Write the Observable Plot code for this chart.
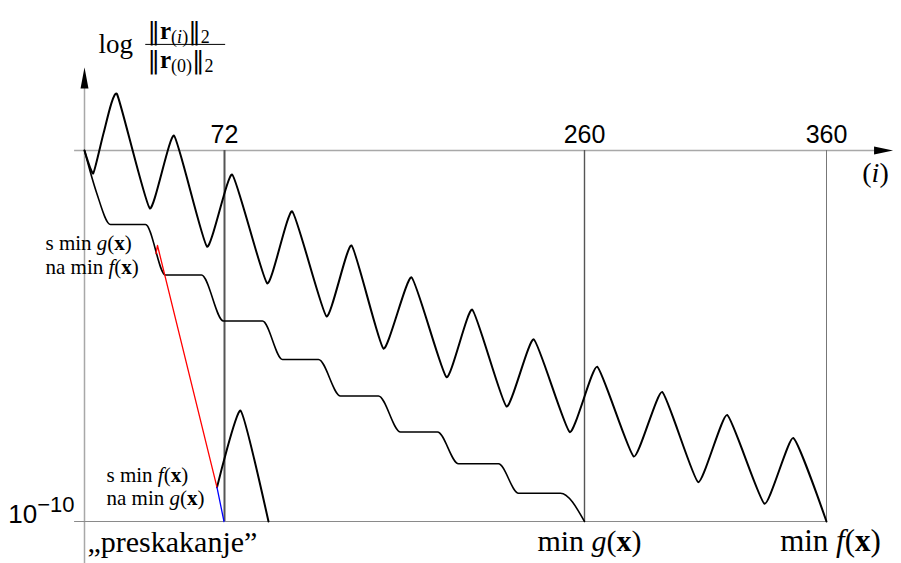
<!DOCTYPE html>
<html><head><meta charset="utf-8">
<script src="https://cdn.jsdelivr.net/npm/d3@7"></script>
<script src="https://cdn.jsdelivr.net/npm/@observablehq/plot@0.6"></script>
<style>html,body{margin:0;padding:0;background:#fff;overflow:hidden}</style>
</head><body><div id="chart"></div>
<script>
// ---- data: iteration i and log10 of the relative residual ----
const topI   = [0, 4.47, 9.93, 16.71, 33.58, 46.03, 63.0, 76.02, 94.30, 107.35, 125.27, 138.32, 155.03, 169.66, 187.93, 201.35, 219.27, 233.52, 252.32, 265.25, 280.37, 292.11, 306.98, 318.97, 334.38, 346.24, 360];
const topLog = [0, -0.62, 0.49, 1.52, -1.56, 0.40, -2.59, -0.65, -3.58, -1.64, -4.47, -2.56, -5.34, -3.42, -6.11, -4.29, -6.90, -5.09, -7.59, -5.83, -8.25, -6.51, -8.94, -7.13, -9.52, -7.75, -10];

const stairI   = [0, 6.17, 13.37, 31.37, 41.66, 60.17, 71.49, 91.84, 102.29, 121.09, 132.58, 152.42, 163.91, 183.23, 194.2, 215.09, 225.53, 247.47, 260];
const stairLog = [0, -1.13, -1.995, -1.995, -3.356, -3.356, -4.596, -4.596, -5.633, -5.633, -6.617, -6.617, -7.588, -7.588, -8.445, -8.445, -9.237, -9.237, -10];

const redI   = [36.77, 37.54, 68.14];
const redLog = [-2.78, -2.56, -9.08];

const blueI   = [68.14, 71.74];
const blueLog = [-9.08, -10];

const jumpI   = [68.14, 80.36, 94.98];
const jumpLog = [-9.08, -7.01, -10];

const tickValues = [72, 260, 360];
const tickLabels = ["72", "260", "360"];

// ---- helpers ----
const rows = (xs, ys) => xs.map((x, k) => ({x, y: ys[k]}));
const serif = "'Liberation Serif', 'Times New Roman', serif";
const sans = "'Liberation Sans', Arial, sans-serif";

const arrowRight = {draw(ctx) { ctx.moveTo(0, 0); ctx.lineTo(-19, -4); ctx.lineTo(-19, 4); ctx.closePath(); }};
const arrowUp    = {draw(ctx) { ctx.moveTo(0, 0); ctx.lineTo(-4, 21); ctx.lineTo(4, 21); ctx.closePath(); }};

// rich-text specs: [text, style] with i=italic, b=bold, s=subscript, u=superscript, d=DejaVu glyph
const rich = new Map([
  ["s min g(x)",  {parts: [["s min ", ""], ["g", "i"], ["(", ""], ["x", "b"], [")", ""]]}],
  ["na min f(x)", {parts: [["na min ", ""], ["f", "i"], ["(", ""], ["x", "b"], [")", ""]]}],
  ["s min f(x)",  {parts: [["s min ", ""], ["f", "i"], ["(", ""], ["x", "b"], [")", ""]]}],
  ["na min g(x)", {parts: [["na min ", ""], ["g", "i"], ["(", ""], ["x", "b"], [")", ""]]}],
  ["min g(x)",    {parts: [["min ", ""], ["g", "i"], ["(", ""], ["x", "b"], [")", ""]]}],
  ["min f(x)",    {parts: [["min ", ""], ["f", "i"], ["(", ""], ["x", "b"], [")", ""]]}],
  ["(i)",         {parts: [["(", ""], ["i", "i"], [")", ""]]}],
  ["10−10",       {parts: [["10", ""], ["−10", "u"]], small: 22, shift: 11}],
  ["‖r(i)‖2",     {parts: [["‖", "d"], ["r", "b"], ["(", "s"], ["i", "si"], [")", "s"], ["‖", "d"], ["2", "s"]], small: 18, shift: 4}],
  ["‖r(0)‖2",     {parts: [["‖", "d"], ["r", "b"], ["(0)", "s"], ["‖", "d"], ["2", "s"]], small: 18, shift: 4}]
]);

function richify(el, spec) {
  const ns = "http://www.w3.org/2000/svg";
  el.textContent = "";
  let cur = 0;
  for (const [s, st] of spec.parts) {
    const ts = document.createElementNS(ns, "tspan");
    const target = st.includes("s") ? spec.shift : st.includes("u") ? -spec.shift : 0;
    if (target !== cur) { ts.setAttribute("dy", target - cur); cur = target; }
    if (st.includes("i")) ts.setAttribute("font-style", "italic");
    if (st.includes("b")) ts.setAttribute("font-weight", "bold");
    if (st.includes("d")) ts.setAttribute("font-family", "'DejaVu Serif'");
    if (st.includes("s") || st.includes("u")) ts.setAttribute("font-size", spec.small);
    ts.textContent = s;
    el.appendChild(ts);
  }
}

const label = (t, x, y, o) => Plot.text([t], {x: () => x, y: () => y, text: d => d, lineAnchor: "bottom", fill: "black", ...o});

const chart = Plot.plot({
  width: 901,
  height: 563,
  margin: 0,
  style: {background: "white"},
  x: {type: "linear", domain: [0, 72, 260, 360], range: [84, 224, 584, 826], axis: null},
  y: {type: "linear", domain: [0, -10], range: [150, 521], axis: null},
  marks: [
    // axes and guide lines
    Plot.ruleY([0], {x1: -5.1, x2: 381, stroke: "#a8a8a8", strokeWidth: 1.5}),
    Plot.dot([0], {x: () => 387.5, y: () => 0, symbol: arrowRight, fill: "black", stroke: "none"}),
    Plot.ruleX([0], {y1: -11.3, y2: 1.7, stroke: "#a8a8a8", strokeWidth: 1.5}),
    Plot.dot([0], {x: () => 0, y: () => 2.24, symbol: arrowUp, fill: "black", stroke: "none"}),
    Plot.ruleY([-10], {x1: -5.1, x2: 360, stroke: "#8a8a8a", strokeWidth: 1}),
    Plot.ruleX([tickValues[0]], {y1: 0, y2: -10, stroke: "#555", strokeWidth: 2}),
    Plot.ruleX([tickValues[1]], {y1: 0, y2: -10, stroke: "#555", strokeWidth: 1.4}),
    Plot.ruleX([tickValues[2]], {y1: 0, y2: -10, stroke: "#777", strokeWidth: 1}),
    // curves
    Plot.line(rows(stairI, stairLog), {x: "x", y: "y", curve: "monotone-x", stroke: "black", strokeWidth: 1.6}),
    Plot.line(rows(topI, topLog), {x: "x", y: "y", curve: "cardinal", tension: 0.55, stroke: "black", strokeWidth: 2, strokeLinejoin: "round"}),
    Plot.line(rows(jumpI, jumpLog), {x: "x", y: "y", curve: "cardinal", tension: 0.55, stroke: "black", strokeWidth: 2, strokeLinejoin: "round"}),
    Plot.line(rows(redI, redLog), {x: "x", y: "y", stroke: "red", strokeWidth: 1.3}),
    Plot.line(rows(blueI, blueLog), {x: "x", y: "y", stroke: "blue", strokeWidth: 1.3}),
    // tick labels
    Plot.text(tickValues, {x: d => d, y: () => 0, text: (d, k) => tickLabels[k], dy: -8, lineAnchor: "bottom", fontFamily: sans, fontSize: 25, fill: "black"}),
    label("(i)", 360, 0, {dx: 49, dy: 31, fontFamily: serif, fontSize: 28}),
    label("10−10", 0, -10, {dx: -10, dy: 1, textAnchor: "end", fontFamily: sans, fontSize: 26}),
    label("„preskakanje”", 0, -10, {dx: 3, dy: 30, textAnchor: "start", fontFamily: serif, fontSize: 30}),
    label("min g(x)", 260, -10, {dx: 5, dy: 29, fontFamily: serif, fontSize: 30}),
    label("min f(x)", 360, -10, {dx: 4, dy: 29, fontFamily: serif, fontSize: 31}),
    label("s min g(x)", redI[1], redLog[1], {dx: -112, dy: 5, textAnchor: "start", fontFamily: serif, fontSize: 21}),
    label("na min f(x)", redI[1], redLog[1], {dx: -112, dy: 29, textAnchor: "start", fontFamily: serif, fontSize: 21}),
    label("s min f(x)", redI[2], redLog[2], {dx: -110.5, dy: -5, textAnchor: "start", fontFamily: serif, fontSize: 21}),
    label("na min g(x)", redI[2], redLog[2], {dx: -110.5, dy: 18, textAnchor: "start", fontFamily: serif, fontSize: 21}),
    // y-axis title: log of the residual ratio
    label("log", 0, 0, {dx: 14, dy: -98, textAnchor: "start", fontFamily: serif, fontSize: 27}),
    label("‖r(i)‖2", 0, 0, {dx: 63, dy: -112, textAnchor: "start", fontFamily: serif, fontSize: 25, letterSpacing: 1.5}),
    Plot.ruleY([2.86], {x1: 31.5, x2: 72.6, stroke: "black", strokeWidth: 1}),
    label("‖r(0)‖2", 0, 0, {dx: 63, dy: -83, textAnchor: "start", fontFamily: serif, fontSize: 25, letterSpacing: 1.5})
  ]
});

d3.select(chart).selectAll("text").each(function () {
  const spec = rich.get(this.textContent);
  if (spec) richify(this, spec);
});

document.getElementById("chart").appendChild(chart);
</script>
</body></html>
